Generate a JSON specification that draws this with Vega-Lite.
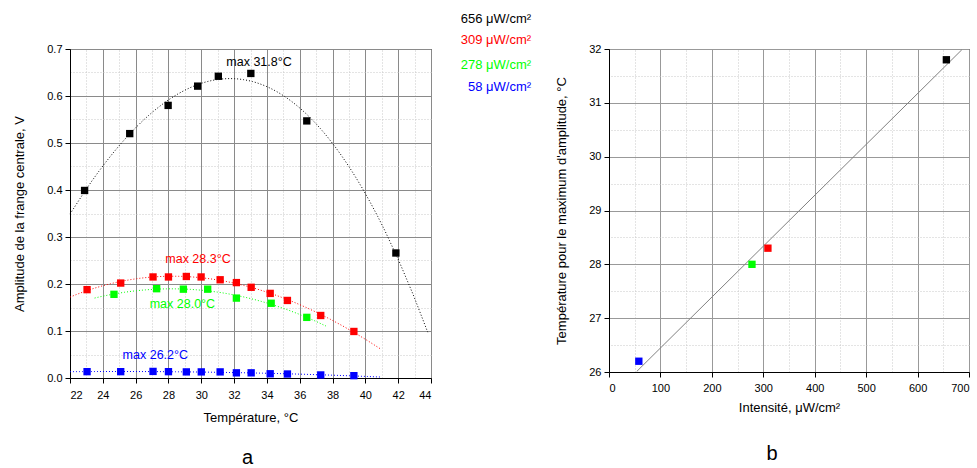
{
  "$schema": "https://vega.github.io/schema/vega-lite/v6.json",
  "padding": {"left": 13, "top": 12, "right": 0, "bottom": 0},
  "background": "white",
  "config": {
    "font": "Liberation Sans",
    "view": {"stroke": "#000", "strokeWidth": 1},
    "axis": {"labelFont": "Liberation Sans", "titleFont": "Liberation Sans", "labelFontSize": 11, "titleFontSize": 13, "titleFontWeight": "normal", "labelColor": "#000", "titleColor": "#000", "domainColor": "#000", "tickColor": "#000", "gridColor": "#8a8a8a", "gridOpacity": 1},
    "title": {"font": "Liberation Sans", "fontWeight": "normal", "fontSize": 20, "color": "#000"}
  },
  "datasets": {
    "amp": [
      {"T": 22.89, "V": 0.399, "s": "656"},
      {"T": 25.64, "V": 0.520, "s": "656"},
      {"T": 27.98, "V": 0.580, "s": "656"},
      {"T": 29.78, "V": 0.621, "s": "656"},
      {"T": 31.04, "V": 0.642, "s": "656"},
      {"T": 33.02, "V": 0.648, "s": "656"},
      {"T": 36.43, "V": 0.547, "s": "656"},
      {"T": 41.86, "V": 0.266, "s": "656"},
      {"T": 23.04, "V": 0.188, "s": "309"},
      {"T": 25.09, "V": 0.202, "s": "309"},
      {"T": 27.06, "V": 0.215, "s": "309"},
      {"T": 28.0, "V": 0.215, "s": "309"},
      {"T": 29.09, "V": 0.216, "s": "309"},
      {"T": 29.99, "V": 0.215, "s": "309"},
      {"T": 31.15, "V": 0.209, "s": "309"},
      {"T": 32.14, "V": 0.203, "s": "309"},
      {"T": 33.04, "V": 0.193, "s": "309"},
      {"T": 34.2, "V": 0.180, "s": "309"},
      {"T": 35.25, "V": 0.165, "s": "309"},
      {"T": 37.28, "V": 0.133, "s": "309"},
      {"T": 39.3, "V": 0.099, "s": "309"},
      {"T": 24.68, "V": 0.178, "s": "278"},
      {"T": 27.28, "V": 0.190, "s": "278"},
      {"T": 28.91, "V": 0.189, "s": "278"},
      {"T": 30.39, "V": 0.189, "s": "278"},
      {"T": 32.14, "V": 0.170, "s": "278"},
      {"T": 34.26, "V": 0.159, "s": "278"},
      {"T": 36.43, "V": 0.129, "s": "278"},
      {"T": 23.04, "V": 0.0135, "s": "58"},
      {"T": 25.09, "V": 0.0135, "s": "58"},
      {"T": 27.06, "V": 0.014, "s": "58"},
      {"T": 28.0, "V": 0.0135, "s": "58"},
      {"T": 29.09, "V": 0.013, "s": "58"},
      {"T": 30.0, "V": 0.013, "s": "58"},
      {"T": 31.15, "V": 0.013, "s": "58"},
      {"T": 32.14, "V": 0.011, "s": "58"},
      {"T": 33.04, "V": 0.011, "s": "58"},
      {"T": 34.2, "V": 0.009, "s": "58"},
      {"T": 35.25, "V": 0.0085, "s": "58"},
      {"T": 37.28, "V": 0.0065, "s": "58"},
      {"T": 39.3, "V": 0.005, "s": "58"}
    ],
    "maxlab": [
      {"T": 33.52, "V": 0.6715, "s": "656", "txt": "max 31.8°C"},
      {"T": 29.8, "V": 0.253, "s": "309", "txt": "max 28.3°C"},
      {"T": 28.85, "V": 0.157, "s": "278", "txt": "max 28.0°C"},
      {"T": 27.2, "V": 0.050, "s": "58", "txt": "max 26.2°C"}
    ],
    "leg": [
      {"T": 50.1, "V": 0.763, "s": "656", "txt": "656 μW/cm²"},
      {"T": 50.1, "V": 0.719, "s": "309", "txt": "309 μW/cm²"},
      {"T": 50.1, "V": 0.667, "s": "278", "txt": "278 μW/cm²"},
      {"T": 50.1, "V": 0.620, "s": "58", "txt": "58 μW/cm²"}
    ],
    "tmax": [
      {"I": 656, "Tm": 31.8, "s": "656"},
      {"I": 309, "Tm": 28.3, "s": "309"},
      {"I": 278, "Tm": 28.0, "s": "278"},
      {"I": 58, "Tm": 26.2, "s": "58"}
    ]
  },
  "spacing": 178,
  "bounds": "flush",
  "hconcat": [
    {
      "width": 361,
      "height": 329,
      "title": {"text": "a", "orient": "bottom", "frame": "group", "dx": -3, "offset": 24},
      "resolve": {"axis": {"x": "independent", "y": "independent"}},
      "layer": [
        {
          "data": {"name": "amp"},
          "mark": {"type": "point", "opacity": 0},
          "encoding": {
            "x": {"field": "T", "type": "quantitative", "scale": {"domain": [22, 44], "nice": false}, "axis": {"orient": "top", "values": [23, 25, 27, 29, 31, 33, 35, 37, 39, 41, 43], "grid": true, "gridDash": [1, 2], "gridColor": "#c8c8c8", "labels": false, "ticks": false, "domain": false, "title": null}},
            "y": {"field": "V", "type": "quantitative", "scale": {"domain": [0, 0.7], "nice": false}, "axis": {"orient": "right", "values": [0.05, 0.15, 0.25, 0.35, 0.45, 0.55, 0.65], "grid": true, "gridDash": [1, 2], "gridColor": "#c8c8c8", "labels": false, "ticks": false, "domain": false, "title": null}}
          }
        },
        {
          "data": {"name": "amp"},
          "mark": {"type": "point", "opacity": 0},
          "encoding": {
            "x": {"field": "T", "type": "quantitative", "axis": {"orient": "bottom", "values": [22, 24, 26, 28, 30, 32, 34, 36, 38, 40, 42, 44], "grid": true, "title": "Température, °C", "labelPadding": 6, "titlePadding": 11, "tickSize": 5}},
            "y": {"field": "V", "type": "quantitative", "axis": {"orient": "left", "values": [0, 0.1, 0.2, 0.3, 0.4, 0.5, 0.6, 0.7], "format": ".1f", "grid": true, "title": "Amplitude de la frange centrale, V", "labelPadding": 3, "titlePadding": 20, "tickSize": 5}}
          }
        },
        {
          "data": {"name": "amp"},
          "transform": [{"filter": "datum.s === '656'"}, {"regression": "V", "on": "T", "method": "poly", "order": 3, "extent": [22, 43.8]}],
          "mark": {"type": "line", "strokeDash": [1, 2], "strokeWidth": 1, "color": "#000"},
          "encoding": {"x": {"field": "T", "type": "quantitative", "axis": null}, "y": {"field": "V", "type": "quantitative", "axis": null}}
        },
        {
          "data": {"name": "amp"},
          "transform": [{"filter": "datum.s === '309'"}, {"regression": "V", "on": "T", "method": "poly", "order": 3, "extent": [22, 40.9]}],
          "mark": {"type": "line", "strokeDash": [1, 2], "strokeWidth": 1, "color": "#ff0000"},
          "encoding": {"x": {"field": "T", "type": "quantitative", "axis": null}, "y": {"field": "V", "type": "quantitative", "axis": null}}
        },
        {
          "data": {"name": "amp"},
          "transform": [{"filter": "datum.s === '278'"}, {"regression": "V", "on": "T", "method": "poly", "order": 2, "extent": [23.5, 37.6]}],
          "mark": {"type": "line", "strokeDash": [1, 2], "strokeWidth": 1, "color": "#00ff00"},
          "encoding": {"x": {"field": "T", "type": "quantitative", "axis": null}, "y": {"field": "V", "type": "quantitative", "axis": null}}
        },
        {
          "data": {"name": "amp"},
          "transform": [{"filter": "datum.s === '58'"}, {"regression": "V", "on": "T", "method": "poly", "order": 2, "extent": [22, 40.9]}],
          "mark": {"type": "line", "strokeDash": [1, 2], "strokeWidth": 1, "color": "#0000ff"},
          "encoding": {"x": {"field": "T", "type": "quantitative", "axis": null}, "y": {"field": "V", "type": "quantitative", "axis": null}}
        },
        {
          "data": {"name": "amp"},
          "mark": {"type": "square", "size": 54, "opacity": 1, "filled": true},
          "encoding": {
            "x": {"field": "T", "type": "quantitative", "axis": null},
            "y": {"field": "V", "type": "quantitative", "axis": null},
            "color": {"field": "s", "type": "nominal", "scale": {"domain": ["656", "309", "278", "58"], "range": ["#000000", "#ff0000", "#00ff00", "#0000ff"]}, "legend": null}
          }
        },
        {
          "data": {"name": "maxlab"},
          "mark": {"type": "text", "fontSize": 12.5, "font": "Liberation Sans", "baseline": "middle", "align": "center"},
          "encoding": {
            "x": {"field": "T", "type": "quantitative", "axis": null},
            "y": {"field": "V", "type": "quantitative", "axis": null},
            "text": {"field": "txt"},
            "color": {"field": "s", "type": "nominal", "scale": {"domain": ["656", "309", "278", "58"], "range": ["#000000", "#ff0000", "#00ff00", "#0000ff"]}, "legend": null}
          }
        },
        {
          "data": {"name": "leg"},
          "mark": {"type": "text", "fontSize": 13, "font": "Liberation Sans", "baseline": "middle", "align": "right"},
          "encoding": {
            "x": {"field": "T", "type": "quantitative", "axis": null},
            "y": {"field": "V", "type": "quantitative", "axis": null},
            "text": {"field": "txt"},
            "color": {"field": "s", "type": "nominal", "scale": {"domain": ["656", "309", "278", "58"], "range": ["#000000", "#ff0000", "#00ff00", "#0000ff"]}, "legend": null}
          }
        }
      ]
    },
    {
      "width": 360,
      "height": 323,
      "title": {"text": "b", "orient": "bottom", "frame": "group", "dx": -17, "offset": 30},
      "resolve": {"axis": {"x": "independent", "y": "independent"}},
      "layer": [
        {
          "data": {"name": "tmax"},
          "mark": {"type": "point", "opacity": 0},
          "encoding": {
            "x": {"field": "I", "type": "quantitative", "scale": {"domain": [0, 700], "nice": false}, "axis": {"orient": "top", "values": [50, 150, 250, 350, 450, 550, 650], "grid": true, "gridDash": [1, 2], "gridColor": "#c8c8c8", "labels": false, "ticks": false, "domain": false, "title": null}},
            "y": {"field": "Tm", "type": "quantitative", "scale": {"domain": [26, 32], "nice": false, "zero": false}, "axis": {"orient": "right", "values": [26.5, 27.5, 28.5, 29.5, 30.5, 31.5], "grid": true, "gridDash": [1, 2], "gridColor": "#c8c8c8", "labels": false, "ticks": false, "domain": false, "title": null}}
          }
        },
        {
          "data": {"name": "tmax"},
          "mark": {"type": "point", "opacity": 0},
          "encoding": {
            "x": {"field": "I", "type": "quantitative", "axis": {"orient": "bottom", "values": [0, 100, 200, 300, 400, 500, 600, 700], "grid": true, "gridColor": "#999", "title": "Intensité, μW/cm²", "labelPadding": 5, "titlePadding": 8, "tickSize": 5}},
            "y": {"field": "Tm", "type": "quantitative", "axis": {"orient": "left", "values": [26, 27, 28, 29, 30, 31, 32], "grid": true, "gridColor": "#999", "title": "Température pour le maximum d'amplitude, °C", "labelPadding": 3, "titlePadding": 20, "tickSize": 5}}
          }
        },
        {
          "data": {"name": "tmax"},
          "transform": [{"regression": "Tm", "on": "I", "method": "linear", "extent": [54, 686]}],
          "mark": {"type": "line", "strokeWidth": 1, "color": "#808080"},
          "encoding": {"x": {"field": "I", "type": "quantitative", "axis": null}, "y": {"field": "Tm", "type": "quantitative", "axis": null}}
        },
        {
          "data": {"name": "tmax"},
          "mark": {"type": "square", "size": 54, "opacity": 1, "filled": true},
          "encoding": {
            "x": {"field": "I", "type": "quantitative", "axis": null},
            "y": {"field": "Tm", "type": "quantitative", "axis": null},
            "color": {"field": "s", "type": "nominal", "scale": {"domain": ["656", "309", "278", "58"], "range": ["#000000", "#ff0000", "#00ff00", "#0000ff"]}, "legend": null}
          }
        }
      ]
    }
  ]
}
